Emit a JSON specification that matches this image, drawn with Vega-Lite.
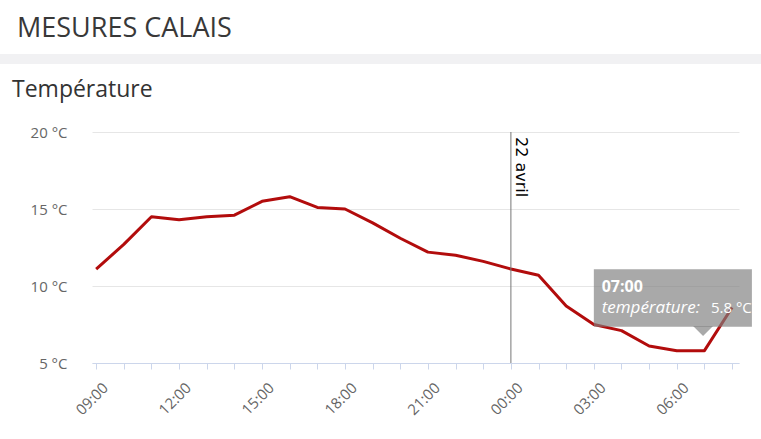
{
  "$schema": "https://vega.github.io/schema/vega-lite/v6.json",
  "background": "white",
  "padding": {"top": 15, "left": 0, "right": 0, "bottom": 0},
  "config": {"font": "Open Sans", "view": {"stroke": null}},
  "columns": 1,
  "align": "none",
  "spacing": 15,
  "datasets": {
    "temperature": [
      {"t": "2019-04-21T09:00", "temp": 11.1},
      {"t": "2019-04-21T10:00", "temp": 12.7},
      {"t": "2019-04-21T11:00", "temp": 14.5},
      {"t": "2019-04-21T12:00", "temp": 14.3},
      {"t": "2019-04-21T13:00", "temp": 14.5},
      {"t": "2019-04-21T14:00", "temp": 14.6},
      {"t": "2019-04-21T15:00", "temp": 15.5},
      {"t": "2019-04-21T16:00", "temp": 15.8},
      {"t": "2019-04-21T17:00", "temp": 15.1},
      {"t": "2019-04-21T18:00", "temp": 15.0},
      {"t": "2019-04-21T19:00", "temp": 14.1},
      {"t": "2019-04-21T20:00", "temp": 13.1},
      {"t": "2019-04-21T21:00", "temp": 12.2},
      {"t": "2019-04-21T22:00", "temp": 12.0},
      {"t": "2019-04-21T23:00", "temp": 11.6},
      {"t": "2019-04-22T00:00", "temp": 11.1},
      {"t": "2019-04-22T01:00", "temp": 10.7},
      {"t": "2019-04-22T02:00", "temp": 8.7},
      {"t": "2019-04-22T03:00", "temp": 7.5},
      {"t": "2019-04-22T04:00", "temp": 7.1},
      {"t": "2019-04-22T05:00", "temp": 6.1},
      {"t": "2019-04-22T06:00", "temp": 5.8},
      {"t": "2019-04-22T07:00", "temp": 5.8},
      {"t": "2019-04-22T08:00", "temp": 8.6}
    ],
    "dayline": [
      {"t": "2019-04-22T00:00", "temp": 20, "label": "22 avril"}
    ],
    "tipbox": [
      {"t": "2019-04-22T03:00", "t2": "2019-04-22T08:43", "temp": 11.08, "temp2": 7.36}
    ],
    "tippointer": [
      {"t": "2019-04-22T06:57", "temp": 7.08}
    ],
    "tiptext": [
      {"kind": "time", "t": "2019-04-22T03:17", "temp": 9.95, "label": "07:00"},
      {"kind": "name", "t": "2019-04-22T03:17", "temp": 8.55, "label": "température:"},
      {"kind": "value", "t": "2019-04-22T07:14", "temp": 8.55, "label": "5.8 °C"}
    ]
  },
  "concat": [
    {
      "width": 761,
      "height": 10,
      "view": {"fill": "#f1f1f3", "stroke": null},
      "title": {
        "text": "MESURES CALAIS",
        "anchor": "start",
        "frame": "group",
        "fontSize": 27,
        "fontWeight": "normal",
        "color": "#383838",
        "baseline": "alphabetic",
        "dx": 17,
        "offset": -11
      },
      "data": {"values": [{"a": 1}]},
      "mark": {"type": "text", "text": ""},
      "encoding": {}
    },
    {
      "width": 739,
      "height": 231,
      "title": {
        "text": "Température",
        "anchor": "start",
        "frame": "group",
        "fontSize": 23,
        "fontWeight": "normal",
        "color": "#333333",
        "baseline": "alphabetic",
        "dx": 12,
        "offset": 5
      },
      "encoding": {
        "x": {
          "field": "t",
          "type": "temporal",
          "scale": {
            "domain": [
              {"year": 2019, "month": 4, "date": 21, "hours": 8, "minutes": 51},
              {"year": 2019, "month": 4, "date": 22, "hours": 8, "minutes": 15}
            ],
            "range": [92, 739],
            "nice": false
          },
          "axis": {
            "title": null,
            "grid": false,
            "values": [
              {"year": 2019, "month": 4, "date": 21, "hours": 9},
              {"year": 2019, "month": 4, "date": 21, "hours": 10},
              {"year": 2019, "month": 4, "date": 21, "hours": 11},
              {"year": 2019, "month": 4, "date": 21, "hours": 12},
              {"year": 2019, "month": 4, "date": 21, "hours": 13},
              {"year": 2019, "month": 4, "date": 21, "hours": 14},
              {"year": 2019, "month": 4, "date": 21, "hours": 15},
              {"year": 2019, "month": 4, "date": 21, "hours": 16},
              {"year": 2019, "month": 4, "date": 21, "hours": 17},
              {"year": 2019, "month": 4, "date": 21, "hours": 18},
              {"year": 2019, "month": 4, "date": 21, "hours": 19},
              {"year": 2019, "month": 4, "date": 21, "hours": 20},
              {"year": 2019, "month": 4, "date": 21, "hours": 21},
              {"year": 2019, "month": 4, "date": 21, "hours": 22},
              {"year": 2019, "month": 4, "date": 21, "hours": 23},
              {"year": 2019, "month": 4, "date": 22, "hours": 0},
              {"year": 2019, "month": 4, "date": 22, "hours": 1},
              {"year": 2019, "month": 4, "date": 22, "hours": 2},
              {"year": 2019, "month": 4, "date": 22, "hours": 3},
              {"year": 2019, "month": 4, "date": 22, "hours": 4},
              {"year": 2019, "month": 4, "date": 22, "hours": 5},
              {"year": 2019, "month": 4, "date": 22, "hours": 6},
              {"year": 2019, "month": 4, "date": 22, "hours": 7},
              {"year": 2019, "month": 4, "date": 22, "hours": 8}
            ],
            "labelExpr": "hours(datum.value) % 3 === 0 ? timeFormat(datum.value, '%H:%M') : ''",
            "labelAngle": -45,
            "labelAlign": "right",
            "labelBaseline": "middle",
            "labelOverlap": false,
            "labelFlush": false,
            "labelBound": false,
            "labelPadding": 16,
            "labelOffset": 9,
            "labelFontSize": 15,
            "labelColor": "#666666",
            "domainColor": "#ccd6eb",
            "tickColor": "#ccd6eb",
            "tickSize": 6
          }
        }
      },
      "layer": [
        {
          "data": {"name": "temperature"},
          "mark": {"type": "line", "color": "#b20c0c", "strokeWidth": 3, "strokeJoin": "round"},
          "encoding": {
            "y": {
              "field": "temp",
              "type": "quantitative",
              "scale": {"domain": [5, 20], "nice": false, "zero": false},
              "axis": {
                "title": null,
                "values": [5, 10, 15, 20],
                "labelExpr": "datum.value + ' °C'",
                "domain": false,
                "ticks": false,
                "tickSize": 0,
                "labelPadding": -67,
                "labelAlign": "right",
                "labelFontSize": 15,
                "labelColor": "#666666",
                "gridColor": "#e6e6e6"
              }
            }
          }
        },
        {
          "data": {"name": "dayline"},
          "mark": {"type": "rule", "color": "#777777", "strokeWidth": 1},
          "encoding": {}
        },
        {
          "data": {"name": "dayline"},
          "mark": {"type": "text", "angle": 90, "align": "left", "baseline": "bottom", "dx": 5, "dy": -2, "font": "DejaVu Sans", "fontSize": 16, "color": "black"},
          "encoding": {
            "y": {"field": "temp", "type": "quantitative"},
            "text": {"field": "label"}
          }
        },
        {
          "data": {"name": "tipbox"},
          "mark": {"type": "rect", "color": "#7f7f7f", "opacity": 0.67},
          "encoding": {
            "x2": {"field": "t2"},
            "y": {"field": "temp", "type": "quantitative"},
            "y2": {"field": "temp2"}
          }
        },
        {
          "data": {"name": "tippointer"},
          "mark": {"type": "point", "shape": "M-1,-0.5L1,-0.5L0,0.5Z", "size": 400, "filled": true, "color": "#7f7f7f", "opacity": 0.67, "strokeWidth": 0},
          "encoding": {"y": {"field": "temp", "type": "quantitative"}}
        },
        {
          "data": {"name": "tiptext"},
          "transform": [{"filter": "datum.kind === 'time'"}],
          "mark": {"type": "text", "align": "left", "baseline": "middle", "fontSize": 16, "fontWeight": "bold", "color": "white"},
          "encoding": {"y": {"field": "temp", "type": "quantitative"}, "text": {"field": "label"}}
        },
        {
          "data": {"name": "tiptext"},
          "transform": [{"filter": "datum.kind === 'name'"}],
          "mark": {"type": "text", "align": "left", "baseline": "middle", "fontSize": 17, "fontStyle": "italic", "color": "white"},
          "encoding": {"y": {"field": "temp", "type": "quantitative"}, "text": {"field": "label"}}
        },
        {
          "data": {"name": "tiptext"},
          "transform": [{"filter": "datum.kind === 'value'"}],
          "mark": {"type": "text", "align": "left", "baseline": "middle", "fontSize": 15, "color": "white"},
          "encoding": {"y": {"field": "temp", "type": "quantitative"}, "text": {"field": "label"}}
        }
      ]
    }
  ]
}
